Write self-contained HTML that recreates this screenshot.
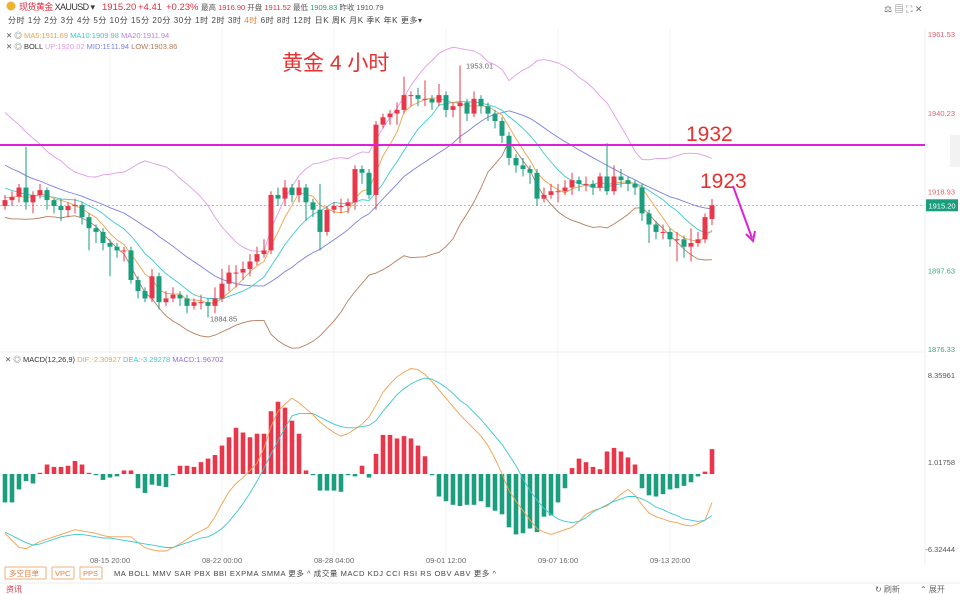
<!DOCTYPE html>
<html><head><meta charset="utf-8">
<style>
body{margin:0;width:960px;height:594px;overflow:hidden;background:#fff;font-family:"Liberation Sans","Noto Sans CJK SC",sans-serif;}
svg{display:block}
text{font-family:"Liberation Sans","Noto Sans CJK SC",sans-serif;}
</style></head>
<body>
<svg id="chart" width="960" height="594">
  <g>
    <circle cx="11" cy="6" r="4.5" fill="#f0b030"/>
    <text x="19" y="10" font-size="9" fill="#e03040" textLength="76">现货黄金 <tspan fill="#333">XAUUSD ▾</tspan></text>
    <text y="10" font-size="9.5" fill="#e03040"><tspan x="102">1915.20</tspan><tspan x="138">+4.41</tspan><tspan x="166">+0.23%</tspan></text>
    <text x="201" y="10" font-size="7.5" fill="#555">最高 <tspan fill="#e03040">1916.90</tspan> 开盘 <tspan fill="#e03040">1911.52</tspan> 最低 <tspan fill="#1a9e7e">1909.83</tspan> 昨收 1910.79</text>
    <text x="8" y="23" font-size="8" fill="#444" textLength="414">分时  1分  2分  3分  4分  5分  10分  15分  20分  30分  1时  2时  3时  <tspan fill="#f08030">4时</tspan>  6时  8时  12时  日K  周K  月K  季K  年K  更多▾</text>
    <text x="884" y="12" font-size="9" fill="#666">⚖    ▤    ⛶    ✕</text>
    <text x="6" y="38" font-size="7.5" fill="#555">✕ ◎ <tspan fill="#f0a04b">MA5:1911.69</tspan> <tspan fill="#3cc8d0">MA10:1909.98</tspan> <tspan fill="#c07ee0">MA20:1911.94</tspan></text>
    <text x="6" y="49" font-size="7.5" fill="#555">✕ ◎ <tspan fill="#333">BOLL</tspan> <tspan fill="#e19be6">UP:1920.02</tspan> <tspan fill="#7b7fe0">MID:1911.94</tspan> <tspan fill="#b67d5c">LOW:1903.86</tspan></text>
  </g>
  <g id="grid"></g>
  <g id="main"></g>
  <g id="macd"></g>
  <line x1="0" y1="352" x2="925" y2="352" stroke="#eee"/>
  <line x1="925" y1="28" x2="925" y2="565" stroke="#eee"/>
  <text x="5" y="362" font-size="7.5" fill="#555">✕ ◎ <tspan fill="#333">MACD(12,26,9)</tspan> <tspan fill="#f0a04b">DIF:-2.30927</tspan> <tspan fill="#3cc8d0">DEA:-3.29278</tspan> <tspan fill="#9a6ee0">MACD:1.96702</tspan></text>
  <line x1="0" y1="145" x2="925" y2="145" stroke="#e020d8" stroke-width="2"/>
  <text x="282" y="70" font-size="21" fill="#e83030">黄金 4 小时</text>
  <text x="686" y="141" font-size="21" fill="#e83030">1932</text>
  <text x="700" y="188" font-size="21" fill="#e83030">1923</text>
  <line x1="733" y1="186" x2="752" y2="238" stroke="#e020d8" stroke-width="2"/>
  <path d="M746,234 L753,241 L755,231" fill="none" stroke="#e020d8" stroke-width="2"/>
  <g>
    <rect x="5" y="567" width="41" height="12" fill="#fff" stroke="#f0b070" rx="1"/>
    <text x="9" y="576" font-size="7.5" fill="#e08040">多空目单</text>
    <rect x="52" y="567" width="22" height="12" fill="#fff" stroke="#f0b070" rx="1"/>
    <text x="55" y="576" font-size="7.5" fill="#e08040">VPC</text>
    <rect x="80" y="567" width="22" height="12" fill="#fff" stroke="#f0b070" rx="1"/>
    <text x="83" y="576" font-size="7.5" fill="#e08040">PPS</text>
    <text x="114" y="576" font-size="7.5" fill="#444" textLength="382">MA   BOLL   MMV   SAR   PBX   BBI   EXPMA   SMMA   更多 ^      成交量   MACD   KDJ   CCI   RSI   RS   OBV   ABV   更多 ^</text>
    <line x1="0" y1="583" x2="960" y2="583" stroke="#eee"/>
    <text x="6" y="592" font-size="8" fill="#e03040">资讯</text>
    <text x="875" y="592" font-size="8" fill="#666">↻ 刷新</text>
    <text x="920" y="592" font-size="8" fill="#666">⌃ 展开</text>
  </g>
  <rect x="950" y="135" width="10" height="32" fill="#f2f2f2"/>
</svg>
<script>
const warmupCloses=[1940,1938,1936,1937,1934,1932,1933,1930,1928,1929,1926,1924,1925,1922,1920,1921,1918,1917,1919,1916];
const closes=[1916.6,1917.5,1920,1916,1918,1919.3,1916.6,1915,1913.9,1915,1915.3,1912,1909,1908,1905,1904,1903,1903,1895,1892,1890,1896,1889,1890,1891,1890,1888,1889,1889,1888,1890,1894,1897,1897,1898,1900,1902,1903,1918,1917,1920,1918,1920,1916,1914,1908,1914,1915,1915,1916,1925,1924,1918,1937,1939,1940,1941,1945,1945,1944,1944,1943,1945,1941,1942,1943,1940,1944,1942,1940,1938,1934,1928,1926,1925,1924,1917,1918,1919,1919,1920,1922,1921,1921,1920,1923,1919,1923,1922,1921,1920,1913,1910,1908,1908,1906,1906,1904,1905,1906,1912,1915.2];
const opens=[1915,1916.6,1917.5,1920,1916,1918,1919.3,1916.6,1915,1913.9,1915,1915.3,1912,1909,1908,1905,1904,1903,1903,1895,1892,1890,1896,1889,1890,1891,1890,1888,1889,1889,1888,1890,1894,1897,1897,1898,1900,1902,1903,1918,1917,1920,1918,1920,1916,1914,1908,1914,1915,1915,1916,1925,1924,1918,1937,1939,1940,1941,1945,1945,1944,1944,1943,1945,1941,1942,1943,1940,1944,1942,1940,1938,1934,1928,1926,1925,1924,1917,1918,1919,1919,1920,1922,1921,1921,1920,1923,1919,1923,1922,1921,1920,1913,1910,1908,1908,1906,1906,1904,1905,1906,1911.52];
const highs=[1918,1919,1921,1931,1919,1921,1920,1917,1917,1916,1917,1916,1913,1910,1909,1906,1905,1904,1904,1896,1893,1898,1897,1892,1893,1892,1891,1890,1891,1890,1893,1898,1899,1899,1900,1902,1904,1906,1919,1920,1922,1921,1922,1921,1917,1921,1915,1916,1917,1917,1926,1926,1925,1938,1940,1941,1943,1950,1946,1947,1949,1945,1948,1946,1943,1953.01,1944,1946,1945,1943,1941,1939,1935,1929,1928,1926,1925,1920,1921,1921,1922,1924,1923,1923,1922,1924,1932,1926,1925,1923,1922,1921,1914,1911,1910,1909,1908,1907,1909,1908,1913,1916.9];
const lows=[1914,1915,1916,1914,1913,1917,1914,1913,1911,1912,1913,1910,1903,1905,1903,1896,1901,1900,1894,1890,1889,1889,1887,1888,1889,1888,1886,1887,1887,1884.85,1886,1889,1892,1893,1895,1896,1899,1901,1902,1915,1915,1916,1916,1911,1912,1903,1907,1913,1913,1913,1914,1921,1917,1914,1936,1937,1937,1940,1942,1942,1942,1941,1942,1939,1939,1932,1938,1939,1940,1938,1936,1932,1926,1924,1923,1921,1915,1916,1917,1916,1918,1918,1919,1919,1918,1919,1918,1918,1920,1919,1918,1911,1905,1906,1906,1904,1900,1901,1900,1904,1905,1909.83];
const difValues=[-5.0,-5.6,-6.2,-6.3,-6.0,-5.7,-5.5,-5.3,-5.1,-4.9,-4.7,-4.8,-4.9,-5.0,-5.2,-5.3,-5.3,-5.3,-5.3,-5.8,-6.2,-6.4,-6.5,-6.5,-6.2,-5.9,-5.5,-5.1,-4.8,-4.5,-3.6,-2.5,-1.5,-0.8,-0.3,0.3,0.9,2.2,4.0,5.3,5.9,6.4,6.0,5.5,5.0,4.4,3.9,3.5,3.2,3.4,3.8,4.2,4.8,5.8,6.9,7.6,8.2,8.6,8.9,8.8,8.4,7.8,7.1,6.4,5.7,5.0,4.4,3.8,3.2,2.4,1.3,0.0,-1.4,-2.3,-3.1,-3.9,-4.6,-4.9,-5.1,-4.9,-4.7,-4.5,-4.0,-3.4,-3.1,-2.9,-2.7,-2.2,-1.7,-1.3,-1.8,-2.6,-3.3,-3.6,-3.8,-4.0,-4.1,-4.3,-4.4,-4.2,-3.9,-2.4];
const deaValues=[-4.9,-5.2,-5.5,-5.8,-6.0,-5.9,-5.7,-5.5,-5.3,-5.2,-5.1,-5.1,-5.2,-5.3,-5.4,-5.4,-5.5,-5.6,-5.7,-5.8,-5.9,-6.0,-6.1,-6.2,-6.2,-6.0,-5.8,-5.6,-5.4,-5.3,-5.0,-4.6,-4.0,-3.3,-2.5,-1.6,-0.6,0.5,1.7,2.8,3.9,4.9,5.1,5.1,5.1,4.8,4.5,4.2,4.0,3.9,3.9,4.0,4.1,4.5,5.3,6.0,6.7,7.2,7.6,7.9,8.1,8.0,7.7,7.3,6.8,6.2,5.8,5.2,4.6,3.9,3.2,2.5,1.6,0.7,-0.4,-1.4,-2.2,-2.9,-3.4,-3.8,-4.0,-4.1,-4.0,-3.7,-3.2,-2.9,-2.6,-2.3,-2.1,-1.9,-1.9,-2.1,-2.4,-2.8,-3.0,-3.3,-3.5,-3.8,-3.9,-4.0,-3.9,-3.5];
const histValues=[-2.4,-2.4,-1.3,-0.6,-0.8,0.1,0.8,0.6,0.6,0.7,1.1,0.8,0.1,-0.1,-0.5,-0.3,-0.2,0.3,0.3,-1.2,-1.6,-0.9,-1.0,-1.1,-0.1,0.7,0.7,0.6,1.0,1.3,1.6,2.4,3.1,3.9,3.5,3.1,3.4,3.4,5.3,6.1,5.6,4.5,3.4,0.3,-0.1,-1.4,-1.4,-1.4,-1.5,-0.1,-0.2,0.7,-0.3,1.7,3.3,3.3,3.0,3.2,3.0,2.4,1.5,-0.1,-1.9,-2.3,-2.6,-2.7,-2.6,-2.6,-2.3,-2.8,-3.1,-3.4,-4.5,-5.1,-5.0,-4.6,-4.9,-3.6,-3.5,-2.4,-1.2,0.5,1.3,1.0,0.6,0.4,1.9,2.2,1.9,1.4,0.8,-1.2,-1.8,-1.9,-1.7,-1.3,-1.2,-1.0,-0.7,-0.2,0.2,2.1];
const timeLabels=["08-15 20:00","08-22 00:00","08-28 04:00","09-01 12:00","09-07 16:00","09-13 20:00"];
const timeLabelIdx=[15,31,47,63,79,95];
const priceTicks=[1961.53,1940.23,1918.93,1897.63,1876.33];
const macdTicks=[8.35961,1.01758,-6.32444];

const NS="http://www.w3.org/2000/svg";
function mk(tag,attrs,parent){const e=document.createElementNS(NS,tag);for(const k in attrs)e.setAttribute(k,attrs[k]);parent.appendChild(e);return e;}
const xOf=i=>5+i*7;
const yP=p=>34+(1961.53-p)*(315/85.2);
const yM=v=>474-v*11.85;
const RED="#e8374a",GREEN="#1a9e7e";
const grid=document.getElementById('grid'),main=document.getElementById('main'),macd=document.getElementById('macd');

for(const idx of timeLabelIdx){
  const g=mk('line',{x1:xOf(idx),x2:xOf(idx),y1:28,y2:555,stroke:"#f3f3f3"},grid);
  
  
}
timeLabels.forEach((t,k)=>{
  const e=mk('text',{x:xOf(timeLabelIdx[k]),y:563,'font-size':7.5,fill:'#666','text-anchor':'middle'},grid);
  e.textContent=t;
  
  
});
priceTicks.forEach(p=>{
  const e=mk('text',{x:955,y:yP(p)+3,'font-size':7.5,fill:p>1915.2?'#e06070':'#3aa58a','text-anchor':'end'},grid);
  e.textContent=p.toFixed(2);
  
  
});
macdTicks.forEach(v=>{
  const e=mk('text',{x:955,y:yM(v)+3,'font-size':7.5,fill:'#555','text-anchor':'end'},grid);
  e.textContent=v.toFixed(5);
  
  
});
const last=closes[closes.length-1];
const cl=mk('line',{x1:0,x2:925,y1:yP(last),y2:yP(last),stroke:"#3cbfa0",'stroke-dasharray':"2,2",'stroke-width':0.7},main);


const tag=mk('rect',{x:926,y:yP(last)-6,width:32,height:12,fill:GREEN},main);


const tt=mk('text',{x:942,y:yP(last)+3,'font-size':7.5,fill:'#fff','text-anchor':'middle'},main);
tt.textContent=last.toFixed(2);



const all=warmupCloses.concat(closes),W=warmupCloses.length;
function sma(arr,n){return arr.map((_,i)=>{const s=arr.slice(Math.max(0,i-n+1),i+1);return s.reduce((a,b)=>a+b,0)/s.length;});}
function std(arr,n){return arr.map((_,i)=>{const s=arr.slice(Math.max(0,i-n+1),i+1);const m=s.reduce((a,b)=>a+b,0)/s.length;return Math.sqrt(s.reduce((a,b)=>a+(b-m)*(b-m),0)/s.length);});}
const ma5=sma(all,5).slice(W),ma10=sma(all,10).slice(W),m20=sma(all,20),sd=std(all,20);
const ma20=m20.slice(W);
const up=m20.map((m,i)=>m+2*sd[i]).slice(W),lo=m20.map((m,i)=>m-2*sd[i]).slice(W);
function line(arr,yf,color,name,parent){
  const pts=arr.map((v,i)=>xOf(i)+','+yf(v).toFixed(1)).join(' ');
  const e=mk('polyline',{points:pts,fill:'none',stroke:color,'stroke-width':0.9},parent);
  
  
}
line(up,yP,'#e19be6','boll-upper',main);
line(lo,yP,'#b67d5c','boll-lower',main);
line(ma20,yP,'#7b7fe0','ma20-line',main);
line(ma10,yP,'#3cc8d0','ma10-line',main);
line(ma5,yP,'#f0a04b','ma5-line',main);

closes.forEach((c,i)=>{
  const o=opens[i],col=c>=o?RED:GREEN,x=xOf(i);
  const w=mk('line',{x1:x,x2:x,y1:yP(highs[i]),y2:yP(lows[i]),stroke:col,'stroke-width':1},main);
  
  
  const top=yP(Math.max(o,c)),h=Math.max(1,Math.abs(yP(o)-yP(c)));
  const b=mk('rect',{x:x-2.5,y:top,width:5,height:h,fill:col},main);
  
  
});
const hiI=highs.indexOf(Math.max(...highs)),loI=lows.indexOf(Math.min(...lows));
const ha=mk('text',{x:xOf(hiI)+6,y:yP(highs[hiI])+3,'font-size':7.5,fill:'#666'},main);
ha.textContent=highs[hiI].toFixed(2);


const la=mk('text',{x:xOf(loI)+2,y:yP(lows[loI])+4,'font-size':7.5,fill:'#666'},main);
la.textContent=lows[loI].toFixed(2);



histValues.forEach((v,i)=>{
  const y0=yM(0),y1=yM(v);
  const r=mk('rect',{x:xOf(i)-2.3,y:Math.min(y0,y1),width:4.6,height:Math.max(0.8,Math.abs(y1-y0)),fill:v>=0?RED:GREEN},macd);
  
  
});
line(difValues,yM,'#f0a04b','dif-line',macd);
line(deaValues,yM,'#3cc8d0','dea-line',macd);
</script>
</body></html>
